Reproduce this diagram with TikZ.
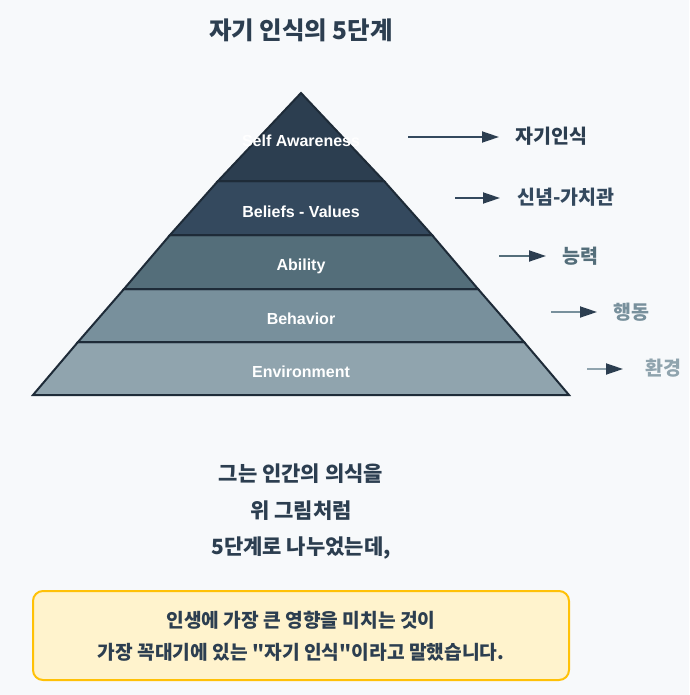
\documentclass[tikz,border=0pt]{standalone}
\usepackage{fontspec}
\setmainfont{Liberation Sans}
\newfontfamily\krfont{Noto Sans CJK KR}
\usetikzlibrary{arrows.meta}
\definecolor{bgc}{HTML}{F7F9FB}
\definecolor{navy}{HTML}{2C3E50}
\definecolor{edgec}{HTML}{1E2B38}
\definecolor{lay1}{HTML}{2C3E50}
\definecolor{lay2}{HTML}{34495E}
\definecolor{lay3}{HTML}{546E7A}
\definecolor{lay4}{HTML}{78909C}
\definecolor{lay5}{HTML}{90A4AE}
\definecolor{boxfill}{HTML}{FFF3CD}
\definecolor{boxedge}{HTML}{FFC107}
\begin{document}
\begin{tikzpicture}[x=1pt,y=-1pt,
  layer/.style={draw=edgec, line width=2pt, line join=miter},
  laytext/.style={text=white, inner sep=0, text height=11pt, text depth=0pt, font=\bfseries\fontsize{16}{19}\selectfont},
  rlabel/.style={anchor=west, inner sep=0, text height=15pt, text depth=1pt, font=\krfont\bfseries\fontsize{19.5}{24}\selectfont},
  conn/.style={line width=1.8pt, -{Triangle[length=17pt,width=11pt,color=navy]}},
  krtext/.style={text=navy, align=center, inner sep=0, font=\krfont\bfseries}]
\useasboundingbox[fill=bgc] (0,0) rectangle (689,695);

% title
\node[krtext, font=\krfont\bfseries\fontsize{24.5}{28}\selectfont] (title) at (301,30) {자기 인식의 5단계};

% pyramid layers
\filldraw[layer, fill=lay5] (33,395) -- (569,395) -- (524,342) -- (78,342) -- cycle;
\filldraw[layer, fill=lay4] (78,342) -- (524,342) -- (478,289) -- (124,289) -- cycle;
\filldraw[layer, fill=lay3] (124,289) -- (478,289) -- (432,235) -- (170,235) -- cycle;
\filldraw[layer, fill=lay2] (170,235) -- (432,235) -- (384,181) -- (218,181) -- cycle;
\filldraw[layer, fill=lay1] (218,181) -- (384,181) -- (301,93) -- cycle;

\node[laytext] (t1) at (301,141) {Self Awareness};
\node[laytext] (t2) at (301,212) {Beliefs - Values};
\node[laytext] (t3) at (301,265) {Ability};
\node[laytext] (t4) at (301,319) {Behavior};
\node[laytext] (t5) at (301,372) {Environment};

% right labels
\node[rlabel, text=lay1] (r1) at (515,137) {자기인식};
\node[rlabel, text=lay2] (r2) at (517,197) {신념-가치관};
\node[rlabel, text=lay3] (r3) at (562,256) {능력};
\node[rlabel, text=lay4] (r4) at (613,312) {행동};
\node[rlabel, text=lay5] (r5) at (645,368) {환경};

\coordinate (a1) at (408,137);
\coordinate (a2) at (455,198);
\coordinate (a3) at (499,256);
\coordinate (a4) at (551,312);
\coordinate (a5) at (587,369);
\draw[conn, lay2] (a1) -- ([xshift=-16pt]r1.west |- a1);
\draw[conn, lay2] (a2) -- ([xshift=-17pt]r2.west |- a2);
\draw[conn, lay3] (a3) -- ([xshift=-16pt]r3.west |- a3);
\draw[conn, lay4] (a4) -- ([xshift=-16pt]r4.west |- a4);
\draw[conn, lay5] (a5) -- ([xshift=-22pt]r5.west |- a5);

% middle text
\node[krtext, font=\krfont\bfseries\fontsize{21}{36.5}\selectfont] (mid) at (301,512)
  {그는 인간의 의식을\\위 그림처럼\\5단계로 나누었는데,};

% bottom box
\draw[boxedge, fill=boxfill, line width=2pt, rounded corners=10pt] (33,591) rectangle (569,680);
\node[krtext, font=\krfont\bfseries\fontsize{19.2}{32}\selectfont] (note) at (301,636)
  {인생에 가장 큰 영향을 미치는 것이\\가장 꼭대기에 있는 "자기 인식"이라고 말했습니다.};
\end{tikzpicture}
\end{document}
